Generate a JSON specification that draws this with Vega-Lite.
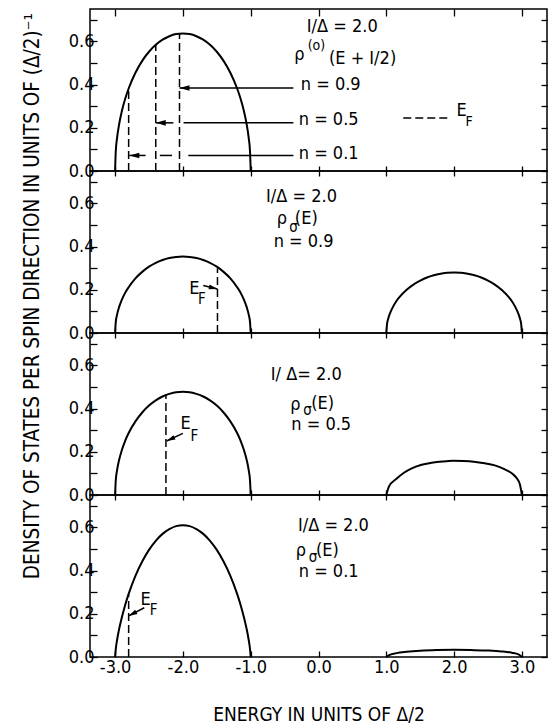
{
"$schema": "https://vega.github.io/schema/vega-lite/v6.json",
"background": "white",
"padding": {"left": 23, "top": 7, "right": 0, "bottom": 0},
"config": {
 "font": "DejaVu Sans Condensed",
 "view": {"stroke": "black", "strokeWidth": 1.5},
 "axis": {"domain": false, "grid": false, "tickColor": "black", "tickWidth": 1.3, "labelColor": "black", "labelFont": "DejaVu Sans Condensed", "labelFontSize": 18, "labelOverlap": false, "labelFlush": false, "titleFont": "DejaVu Sans Condensed", "titleFontWeight": "normal", "titleColor": "black"},
 "text": {"font": "DejaVu Sans Condensed", "color": "black"}
},
"title": {"text": "DENSITY OF STATES PER SPIN DIRECTION IN UNITS OF (Δ/2)⁻¹", "orient": "left", "anchor": "middle", "fontSize": 20.5, "font": "DejaVu Sans Condensed", "fontWeight": "normal", "color": "black", "offset": 24, "dx": 70},
"datasets": {
 "curves": [
  {"panel":1,"band":"L","E":-3.0,"rho":0},{"panel":1,"band":"L","E":-2.99,"rho":0.09},{"panel":1,"band":"L","E":-2.97,"rho":0.155},{"panel":1,"band":"L","E":-2.94,"rho":0.217},{"panel":1,"band":"L","E":-2.9,"rho":0.278},{"panel":1,"band":"L","E":-2.85,"rho":0.336},{"panel":1,"band":"L","E":-2.8,"rho":0.382},{"panel":1,"band":"L","E":-2.7,"rho":0.455},{"panel":1,"band":"L","E":-2.6,"rho":0.51},{"panel":1,"band":"L","E":-2.5,"rho":0.552},{"panel":1,"band":"L","E":-2.4,"rho":0.584},{"panel":1,"band":"L","E":-2.3,"rho":0.608},{"panel":1,"band":"L","E":-2.2,"rho":0.624},{"panel":1,"band":"L","E":-2.1,"rho":0.634},{"panel":1,"band":"L","E":-2.0,"rho":0.637},{"panel":1,"band":"L","E":-1.9,"rho":0.634},{"panel":1,"band":"L","E":-1.8,"rho":0.624},{"panel":1,"band":"L","E":-1.7,"rho":0.608},{"panel":1,"band":"L","E":-1.6,"rho":0.584},{"panel":1,"band":"L","E":-1.5,"rho":0.552},{"panel":1,"band":"L","E":-1.4,"rho":0.51},{"panel":1,"band":"L","E":-1.3,"rho":0.455},{"panel":1,"band":"L","E":-1.2,"rho":0.382},{"panel":1,"band":"L","E":-1.15,"rho":0.336},{"panel":1,"band":"L","E":-1.1,"rho":0.278},{"panel":1,"band":"L","E":-1.06,"rho":0.217},{"panel":1,"band":"L","E":-1.03,"rho":0.155},{"panel":1,"band":"L","E":-1.01,"rho":0.09},{"panel":1,"band":"L","E":-1.0,"rho":0},
  {"panel":2,"band":"L","E":-3.0,"rho":0},{"panel":2,"band":"L","E":-2.99,"rho":0.05},{"panel":2,"band":"L","E":-2.97,"rho":0.086},{"panel":2,"band":"L","E":-2.94,"rho":0.121},{"panel":2,"band":"L","E":-2.9,"rho":0.154},{"panel":2,"band":"L","E":-2.85,"rho":0.187},{"panel":2,"band":"L","E":-2.8,"rho":0.212},{"panel":2,"band":"L","E":-2.7,"rho":0.253},{"panel":2,"band":"L","E":-2.6,"rho":0.283},{"panel":2,"band":"L","E":-2.5,"rho":0.307},{"panel":2,"band":"L","E":-2.4,"rho":0.325},{"panel":2,"band":"L","E":-2.3,"rho":0.338},{"panel":2,"band":"L","E":-2.2,"rho":0.347},{"panel":2,"band":"L","E":-2.1,"rho":0.352},{"panel":2,"band":"L","E":-2.0,"rho":0.354},{"panel":2,"band":"L","E":-1.9,"rho":0.352},{"panel":2,"band":"L","E":-1.8,"rho":0.347},{"panel":2,"band":"L","E":-1.7,"rho":0.338},{"panel":2,"band":"L","E":-1.6,"rho":0.325},{"panel":2,"band":"L","E":-1.5,"rho":0.307},{"panel":2,"band":"L","E":-1.4,"rho":0.283},{"panel":2,"band":"L","E":-1.3,"rho":0.253},{"panel":2,"band":"L","E":-1.2,"rho":0.212},{"panel":2,"band":"L","E":-1.15,"rho":0.187},{"panel":2,"band":"L","E":-1.1,"rho":0.154},{"panel":2,"band":"L","E":-1.06,"rho":0.121},{"panel":2,"band":"L","E":-1.03,"rho":0.086},{"panel":2,"band":"L","E":-1.01,"rho":0.05},{"panel":2,"band":"L","E":-1.0,"rho":0},
  {"panel":2,"band":"R","E":1.0,"rho":0},{"panel":2,"band":"R","E":1.01,"rho":0.039},{"panel":2,"band":"R","E":1.03,"rho":0.068},{"panel":2,"band":"R","E":1.06,"rho":0.095},{"panel":2,"band":"R","E":1.1,"rho":0.122},{"panel":2,"band":"R","E":1.15,"rho":0.148},{"panel":2,"band":"R","E":1.2,"rho":0.168},{"panel":2,"band":"R","E":1.3,"rho":0.2},{"panel":2,"band":"R","E":1.4,"rho":0.224},{"panel":2,"band":"R","E":1.5,"rho":0.242},{"panel":2,"band":"R","E":1.6,"rho":0.257},{"panel":2,"band":"R","E":1.7,"rho":0.267},{"panel":2,"band":"R","E":1.8,"rho":0.274},{"panel":2,"band":"R","E":1.9,"rho":0.279},{"panel":2,"band":"R","E":2.0,"rho":0.28},{"panel":2,"band":"R","E":2.1,"rho":0.279},{"panel":2,"band":"R","E":2.2,"rho":0.274},{"panel":2,"band":"R","E":2.3,"rho":0.267},{"panel":2,"band":"R","E":2.4,"rho":0.257},{"panel":2,"band":"R","E":2.5,"rho":0.242},{"panel":2,"band":"R","E":2.6,"rho":0.224},{"panel":2,"band":"R","E":2.7,"rho":0.2},{"panel":2,"band":"R","E":2.8,"rho":0.168},{"panel":2,"band":"R","E":2.85,"rho":0.148},{"panel":2,"band":"R","E":2.9,"rho":0.122},{"panel":2,"band":"R","E":2.94,"rho":0.095},{"panel":2,"band":"R","E":2.97,"rho":0.068},{"panel":2,"band":"R","E":2.99,"rho":0.039},{"panel":2,"band":"R","E":3.0,"rho":0},
  {"panel":3,"band":"L","E":-3.0,"rho":0},{"panel":3,"band":"L","E":-2.99,"rho":0.067},{"panel":3,"band":"L","E":-2.97,"rho":0.116},{"panel":3,"band":"L","E":-2.94,"rho":0.163},{"panel":3,"band":"L","E":-2.9,"rho":0.208},{"panel":3,"band":"L","E":-2.85,"rho":0.252},{"panel":3,"band":"L","E":-2.8,"rho":0.287},{"panel":3,"band":"L","E":-2.7,"rho":0.341},{"panel":3,"band":"L","E":-2.6,"rho":0.382},{"panel":3,"band":"L","E":-2.5,"rho":0.414},{"panel":3,"band":"L","E":-2.4,"rho":0.438},{"panel":3,"band":"L","E":-2.3,"rho":0.456},{"panel":3,"band":"L","E":-2.2,"rho":0.468},{"panel":3,"band":"L","E":-2.1,"rho":0.476},{"panel":3,"band":"L","E":-2.0,"rho":0.478},{"panel":3,"band":"L","E":-1.9,"rho":0.476},{"panel":3,"band":"L","E":-1.8,"rho":0.468},{"panel":3,"band":"L","E":-1.7,"rho":0.456},{"panel":3,"band":"L","E":-1.6,"rho":0.438},{"panel":3,"band":"L","E":-1.5,"rho":0.414},{"panel":3,"band":"L","E":-1.4,"rho":0.382},{"panel":3,"band":"L","E":-1.3,"rho":0.341},{"panel":3,"band":"L","E":-1.2,"rho":0.287},{"panel":3,"band":"L","E":-1.15,"rho":0.252},{"panel":3,"band":"L","E":-1.1,"rho":0.208},{"panel":3,"band":"L","E":-1.06,"rho":0.163},{"panel":3,"band":"L","E":-1.03,"rho":0.116},{"panel":3,"band":"L","E":-1.01,"rho":0.067},{"panel":3,"band":"L","E":-1.0,"rho":0},
  {"panel":3,"band":"R","E":1.0,"rho":0},{"panel":3,"band":"R","E":1.04,"rho":0.04},{"panel":3,"band":"R","E":1.15,"rho":0.075},{"panel":3,"band":"R","E":1.26,"rho":0.103},{"panel":3,"band":"R","E":1.36,"rho":0.121},{"panel":3,"band":"R","E":1.52,"rho":0.14},{"panel":3,"band":"R","E":1.67,"rho":0.149},{"panel":3,"band":"R","E":1.83,"rho":0.155},{"panel":3,"band":"R","E":1.98,"rho":0.158},{"panel":3,"band":"R","E":2.14,"rho":0.157},{"panel":3,"band":"R","E":2.29,"rho":0.154},{"panel":3,"band":"R","E":2.45,"rho":0.147},{"panel":3,"band":"R","E":2.6,"rho":0.137},{"panel":3,"band":"R","E":2.74,"rho":0.12},{"panel":3,"band":"R","E":2.86,"rho":0.098},{"panel":3,"band":"R","E":2.93,"rho":0.075},{"panel":3,"band":"R","E":2.97,"rho":0.05},{"panel":3,"band":"R","E":3.0,"rho":0},
  {"panel":4,"band":"L","E":-3.0,"rho":0},{"panel":4,"band":"L","E":-2.99,"rho":0.036},{"panel":4,"band":"L","E":-2.97,"rho":0.08},{"panel":4,"band":"L","E":-2.94,"rho":0.13},{"panel":4,"band":"L","E":-2.9,"rho":0.184},{"panel":4,"band":"L","E":-2.85,"rho":0.242},{"panel":4,"band":"L","E":-2.8,"rho":0.292},{"panel":4,"band":"L","E":-2.7,"rho":0.376},{"panel":4,"band":"L","E":-2.6,"rho":0.442},{"panel":4,"band":"L","E":-2.5,"rho":0.496},{"panel":4,"band":"L","E":-2.4,"rho":0.538},{"panel":4,"band":"L","E":-2.3,"rho":0.57},{"panel":4,"band":"L","E":-2.2,"rho":0.592},{"panel":4,"band":"L","E":-2.1,"rho":0.606},{"panel":4,"band":"L","E":-2.0,"rho":0.61},{"panel":4,"band":"L","E":-1.9,"rho":0.606},{"panel":4,"band":"L","E":-1.8,"rho":0.592},{"panel":4,"band":"L","E":-1.7,"rho":0.57},{"panel":4,"band":"L","E":-1.6,"rho":0.538},{"panel":4,"band":"L","E":-1.5,"rho":0.496},{"panel":4,"band":"L","E":-1.4,"rho":0.442},{"panel":4,"band":"L","E":-1.3,"rho":0.376},{"panel":4,"band":"L","E":-1.2,"rho":0.292},{"panel":4,"band":"L","E":-1.15,"rho":0.242},{"panel":4,"band":"L","E":-1.1,"rho":0.184},{"panel":4,"band":"L","E":-1.06,"rho":0.13},{"panel":4,"band":"L","E":-1.03,"rho":0.08},{"panel":4,"band":"L","E":-1.01,"rho":0.036},{"panel":4,"band":"L","E":-1.0,"rho":0},
  {"panel":4,"band":"R","E":1.0,"rho":0},{"panel":4,"band":"R","E":1.05,"rho":0.01},{"panel":4,"band":"R","E":1.15,"rho":0.018},{"panel":4,"band":"R","E":1.3,"rho":0.024},{"panel":4,"band":"R","E":1.5,"rho":0.029},{"panel":4,"band":"R","E":1.75,"rho":0.032},{"panel":4,"band":"R","E":2.0,"rho":0.033},{"panel":4,"band":"R","E":2.25,"rho":0.032},{"panel":4,"band":"R","E":2.5,"rho":0.03},{"panel":4,"band":"R","E":2.7,"rho":0.026},{"panel":4,"band":"R","E":2.85,"rho":0.02},{"panel":4,"band":"R","E":2.95,"rho":0.012},{"panel":4,"band":"R","E":3.0,"rho":0}
 ],
 "fermi": [
  {"panel":1,"x1":-2.8,"x2":-2.8,"y1":0,"y2":0.37},
  {"panel":1,"x1":-2.4,"x2":-2.4,"y1":0,"y2":0.585},
  {"panel":1,"x1":-2.05,"x2":-2.05,"y1":0,"y2":0.635},
  {"panel":1,"x1":1.25,"x2":1.9,"y1":0.245,"y2":0.245},
  {"panel":2,"x1":-1.49,"x2":-1.49,"y1":0,"y2":0.3},
  {"panel":3,"x1":-2.25,"x2":-2.25,"y1":0,"y2":0.465},
  {"panel":4,"x1":-2.8,"x2":-2.8,"y1":0,"y2":0.29}
 ],
 "arrows": [
  {"panel":1,"x1":-2.05,"x2":-0.37,"y1":0.384,"y2":0.384},
  {"panel":1,"x1":-2.4,"x2":-2.14,"y1":0.223,"y2":0.223},
  {"panel":1,"x1":-1.99,"x2":-0.37,"y1":0.223,"y2":0.223},
  {"panel":1,"x1":-2.79,"x2":-2.55,"y1":0.072,"y2":0.072},
  {"panel":1,"x1":-2.34,"x2":-2.16,"y1":0.072,"y2":0.072},
  {"panel":1,"x1":-1.92,"x2":-0.37,"y1":0.072,"y2":0.072},
  {"panel":2,"x1":-1.7,"x2":-1.49,"y1":0.22,"y2":0.204},
  {"panel":3,"x1":-2.0,"x2":-2.24,"y1":0.285,"y2":0.25},
  {"panel":4,"x1":-2.57,"x2":-2.8,"y1":0.228,"y2":0.19}
 ],
 "heads": [
  {"panel":1,"x":-2.05,"y":0.384,"dir":0},
  {"panel":1,"x":-2.4,"y":0.223,"dir":0},
  {"panel":1,"x":-2.79,"y":0.072,"dir":0},
  {"panel":2,"x":-1.49,"y":0.204,"dir":194},
  {"panel":3,"x":-2.24,"y":0.25,"dir":335},
  {"panel":4,"x":-2.8,"y":0.19,"dir":332}
 ],
 "labels": [
  {"panel":1,"x":0.35,"y":0.665,"text":"I/Δ = 2.0"},
  {"panel":1,"x":-0.28,"y":0.535,"text":"ρ"},
  {"panel":1,"x":0.65,"y":0.517,"text":"(E + I/2)"},
  {"panel":1,"x":0.18,"y":0.4,"text":"n = 0.9"},
  {"panel":1,"x":0.15,"y":0.235,"text":"n = 0.5"},
  {"panel":1,"x":0.15,"y":0.078,"text":"n = 0.1"},
  {"panel":1,"x":2.11,"y":0.28,"text":"E"},
  {"panel":2,"x":-0.25,"y":0.628,"text":"I/Δ = 2.0"},
  {"panel":2,"x":-0.54,"y":0.526,"text":"ρ"},
  {"panel":2,"x":-0.18,"y":0.526,"text":"(E)"},
  {"panel":2,"x":-0.22,"y":0.42,"text":"n = 0.9"},
  {"panel":2,"x":-1.83,"y":0.205,"text":"E"},
  {"panel":3,"x":-0.18,"y":0.554,"text":"I/ Δ= 2.0"},
  {"panel":3,"x":-0.34,"y":0.415,"text":"ρ"},
  {"panel":3,"x":0.06,"y":0.42,"text":"(E)"},
  {"panel":3,"x":0.04,"y":0.323,"text":"n = 0.5"},
  {"panel":3,"x":-1.96,"y":0.329,"text":"E"},
  {"panel":4,"x":0.22,"y":0.608,"text":"I/Δ = 2.0"},
  {"panel":4,"x":-0.26,"y":0.489,"text":"ρ"},
  {"panel":4,"x":0.13,"y":0.489,"text":"(E)"},
  {"panel":4,"x":0.15,"y":0.392,"text":"n = 0.1"},
  {"panel":4,"x":-2.55,"y":0.265,"text":"E"}
 ],
 "subs": [
  {"panel":1,"x":-0.03,"y":0.58,"text":"(o)"},
  {"panel":1,"x":2.22,"y":0.226,"text":"F"},
  {"panel":2,"x":-0.37,"y":0.49,"text":"σ"},
  {"panel":2,"x":-1.72,"y":0.158,"text":"F"},
  {"panel":3,"x":-0.16,"y":0.395,"text":"σ"},
  {"panel":3,"x":-1.83,"y":0.272,"text":"F"},
  {"panel":4,"x":-0.08,"y":0.462,"text":"σ"},
  {"panel":4,"x":-2.43,"y":0.217,"text":"F"}
 ]
},
"spacing": 0,
"bounds": "flush",
"vconcat": [
 {"width": 457, "height": 162, "resolve": {"axis": {"x": "independent", "y": "independent"}},
  "layer": [
   {"data": {"name": "curves"}, "transform": [{"filter": "datum.panel == 1"}], "mark": {"type": "line", "color": "black", "strokeWidth": 2, "interpolate": "monotone"},
    "encoding": {"x": {"field": "E", "type": "quantitative", "scale": {"domain": [-3.37, 3.37], "nice": false, "zero": false}, "axis": {"orient": "bottom", "values": [-3,-2,-1,0,1,2,3], "tickSize": -5, "labels": false, "title": null}},
     "y": {"field": "rho", "type": "quantitative", "scale": {"domain": [0, 0.75], "nice": false}, "axis": {"orient": "left", "values": [0,0.1,0.2,0.3,0.4,0.5,0.6,0.7], "tickSize": -7, "labelPadding": 3, "labelExpr": "round(datum.value*10) % 2 == 0 ? format(datum.value, '.1f') : ''", "title": null}},
     "detail": {"field": "band"}}},
   {"data": {"name": "fermi"}, "transform": [{"filter": "datum.panel == 1"}], "mark": {"type": "rule", "color": "black", "strokeWidth": 1.5, "strokeDash": [8, 4]},
    "encoding": {"x": {"field": "x1", "type": "quantitative", "axis": {"orient": "top", "values": [-3,-2,-1,0,1,2,3], "tickSize": -7, "labels": false, "title": null}}, "x2": {"field": "x2"},
     "y": {"field": "y1", "type": "quantitative", "axis": {"orient": "right", "values": [0,0.1,0.2,0.3,0.4,0.5,0.6,0.7], "tickSize": -6, "labels": false, "title": null}}, "y2": {"field": "y2"}}},
   {"data": {"name": "arrows"}, "transform": [{"filter": "datum.panel == 1"}], "mark": {"type": "rule", "color": "black", "strokeWidth": 1.5},
    "encoding": {"x": {"field": "x1", "type": "quantitative", "axis": null}, "x2": {"field": "x2"}, "y": {"field": "y1", "type": "quantitative", "axis": null}, "y2": {"field": "y2"}}},
   {"data": {"name": "heads"}, "transform": [{"filter": "datum.panel == 1"}], "mark": {"type": "point", "shape": "M0,0L1,-0.28L1,0.28Z", "filled": true, "color": "black", "opacity": 1, "size": 400, "strokeWidth": 0},
    "encoding": {"x": {"field": "x", "type": "quantitative", "axis": null}, "y": {"field": "y", "type": "quantitative", "axis": null}, "angle": {"field": "dir", "type": "quantitative", "scale": null}}},
   {"data": {"name": "labels"}, "transform": [{"filter": "datum.panel == 1"}], "mark": {"type": "text", "fontSize": 18, "align": "center", "baseline": "middle"},
    "encoding": {"x": {"field": "x", "type": "quantitative", "axis": null}, "y": {"field": "y", "type": "quantitative", "axis": null}, "text": {"field": "text"}}},
   {"data": {"name": "subs"}, "transform": [{"filter": "datum.panel == 1"}], "mark": {"type": "text", "fontSize": 14, "align": "center", "baseline": "middle"},
    "encoding": {"x": {"field": "x", "type": "quantitative", "axis": null}, "y": {"field": "y", "type": "quantitative", "axis": null}, "text": {"field": "text"}}}
  ]},
 {"width": 457, "height": 162, "resolve": {"axis": {"x": "independent", "y": "independent"}},
  "layer": [
   {"data": {"name": "curves"}, "transform": [{"filter": "datum.panel == 2"}], "mark": {"type": "line", "color": "black", "strokeWidth": 2, "interpolate": "monotone"},
    "encoding": {"x": {"field": "E", "type": "quantitative", "scale": {"domain": [-3.37, 3.37], "nice": false, "zero": false}, "axis": {"orient": "bottom", "values": [-3,-2,-1,0,1,2,3], "tickSize": -5, "labels": false, "title": null}},
     "y": {"field": "rho", "type": "quantitative", "scale": {"domain": [0, 0.75], "nice": false}, "axis": {"orient": "left", "values": [0,0.1,0.2,0.3,0.4,0.5,0.6,0.7], "tickSize": -7, "labelPadding": 3, "labelExpr": "round(datum.value*10) % 2 == 0 ? format(datum.value, '.1f') : ''", "title": null}},
     "detail": {"field": "band"}}},
   {"data": {"name": "fermi"}, "transform": [{"filter": "datum.panel == 2"}], "mark": {"type": "rule", "color": "black", "strokeWidth": 1.5, "strokeDash": [8, 4]},
    "encoding": {"x": {"field": "x1", "type": "quantitative", "axis": {"orient": "top", "values": [-3,-2,-1,0,1,2,3], "tickSize": -5, "labels": false, "title": null}}, "x2": {"field": "x2"},
     "y": {"field": "y1", "type": "quantitative", "axis": {"orient": "right", "values": [0,0.1,0.2,0.3,0.4,0.5,0.6,0.7], "tickSize": -6, "labels": false, "title": null}}, "y2": {"field": "y2"}}},
   {"data": {"name": "arrows"}, "transform": [{"filter": "datum.panel == 2"}], "mark": {"type": "rule", "color": "black", "strokeWidth": 1.5},
    "encoding": {"x": {"field": "x1", "type": "quantitative", "axis": null}, "x2": {"field": "x2"}, "y": {"field": "y1", "type": "quantitative", "axis": null}, "y2": {"field": "y2"}}},
   {"data": {"name": "heads"}, "transform": [{"filter": "datum.panel == 2"}], "mark": {"type": "point", "shape": "M0,0L1,-0.28L1,0.28Z", "filled": true, "color": "black", "opacity": 1, "size": 300, "strokeWidth": 0},
    "encoding": {"x": {"field": "x", "type": "quantitative", "axis": null}, "y": {"field": "y", "type": "quantitative", "axis": null}, "angle": {"field": "dir", "type": "quantitative", "scale": null}}},
   {"data": {"name": "labels"}, "transform": [{"filter": "datum.panel == 2"}], "mark": {"type": "text", "fontSize": 18, "align": "center", "baseline": "middle"},
    "encoding": {"x": {"field": "x", "type": "quantitative", "axis": null}, "y": {"field": "y", "type": "quantitative", "axis": null}, "text": {"field": "text"}}},
   {"data": {"name": "subs"}, "transform": [{"filter": "datum.panel == 2"}], "mark": {"type": "text", "fontSize": 15, "align": "center", "baseline": "middle"},
    "encoding": {"x": {"field": "x", "type": "quantitative", "axis": null}, "y": {"field": "y", "type": "quantitative", "axis": null}, "text": {"field": "text"}}}
  ]},
 {"width": 457, "height": 162, "resolve": {"axis": {"x": "independent", "y": "independent"}},
  "layer": [
   {"data": {"name": "curves"}, "transform": [{"filter": "datum.panel == 3"}], "mark": {"type": "line", "color": "black", "strokeWidth": 2, "interpolate": "monotone"},
    "encoding": {"x": {"field": "E", "type": "quantitative", "scale": {"domain": [-3.37, 3.37], "nice": false, "zero": false}, "axis": {"orient": "bottom", "values": [-3,-2,-1,0,1,2,3], "tickSize": -5, "labels": false, "title": null}},
     "y": {"field": "rho", "type": "quantitative", "scale": {"domain": [0, 0.75], "nice": false}, "axis": {"orient": "left", "values": [0,0.1,0.2,0.3,0.4,0.5,0.6,0.7], "tickSize": -7, "labelPadding": 3, "labelExpr": "round(datum.value*10) % 2 == 0 ? format(datum.value, '.1f') : ''", "title": null}},
     "detail": {"field": "band"}}},
   {"data": {"name": "fermi"}, "transform": [{"filter": "datum.panel == 3"}], "mark": {"type": "rule", "color": "black", "strokeWidth": 1.5, "strokeDash": [8, 4]},
    "encoding": {"x": {"field": "x1", "type": "quantitative", "axis": {"orient": "top", "values": [-3,-2,-1,0,1,2,3], "tickSize": -5, "labels": false, "title": null}}, "x2": {"field": "x2"},
     "y": {"field": "y1", "type": "quantitative", "axis": {"orient": "right", "values": [0,0.1,0.2,0.3,0.4,0.5,0.6,0.7], "tickSize": -6, "labels": false, "title": null}}, "y2": {"field": "y2"}}},
   {"data": {"name": "arrows"}, "transform": [{"filter": "datum.panel == 3"}], "mark": {"type": "rule", "color": "black", "strokeWidth": 1.5},
    "encoding": {"x": {"field": "x1", "type": "quantitative", "axis": null}, "x2": {"field": "x2"}, "y": {"field": "y1", "type": "quantitative", "axis": null}, "y2": {"field": "y2"}}},
   {"data": {"name": "heads"}, "transform": [{"filter": "datum.panel == 3"}], "mark": {"type": "point", "shape": "M0,0L1,-0.28L1,0.28Z", "filled": true, "color": "black", "opacity": 1, "size": 300, "strokeWidth": 0},
    "encoding": {"x": {"field": "x", "type": "quantitative", "axis": null}, "y": {"field": "y", "type": "quantitative", "axis": null}, "angle": {"field": "dir", "type": "quantitative", "scale": null}}},
   {"data": {"name": "labels"}, "transform": [{"filter": "datum.panel == 3"}], "mark": {"type": "text", "fontSize": 18, "align": "center", "baseline": "middle"},
    "encoding": {"x": {"field": "x", "type": "quantitative", "axis": null}, "y": {"field": "y", "type": "quantitative", "axis": null}, "text": {"field": "text"}}},
   {"data": {"name": "subs"}, "transform": [{"filter": "datum.panel == 3"}], "mark": {"type": "text", "fontSize": 15, "align": "center", "baseline": "middle"},
    "encoding": {"x": {"field": "x", "type": "quantitative", "axis": null}, "y": {"field": "y", "type": "quantitative", "axis": null}, "text": {"field": "text"}}}
  ]},
 {"width": 457, "height": 162, "resolve": {"axis": {"x": "independent", "y": "independent"}},
  "layer": [
   {"data": {"name": "curves"}, "transform": [{"filter": "datum.panel == 4"}], "mark": {"type": "line", "color": "black", "strokeWidth": 2, "interpolate": "monotone"},
    "encoding": {"x": {"field": "E", "type": "quantitative", "scale": {"domain": [-3.37, 3.37], "nice": false, "zero": false}, "axis": {"orient": "bottom", "values": [-3,-2,-1,0,1,2,3], "tickSize": -6, "labelPadding": 7, "labelExpr": "replace(format(datum.value, '.1f'), '−', '-')", "title": "ENERGY IN UNITS OF Δ/2", "titleFontSize": 19, "titlePadding": 29}},
     "y": {"field": "rho", "type": "quantitative", "scale": {"domain": [0, 0.75], "nice": false}, "axis": {"orient": "left", "values": [0,0.1,0.2,0.3,0.4,0.5,0.6,0.7], "tickSize": -7, "labelPadding": 3, "labelExpr": "round(datum.value*10) % 2 == 0 ? format(datum.value, '.1f') : ''", "title": null}},
     "detail": {"field": "band"}}},
   {"data": {"name": "fermi"}, "transform": [{"filter": "datum.panel == 4"}], "mark": {"type": "rule", "color": "black", "strokeWidth": 1.5, "strokeDash": [8, 4]},
    "encoding": {"x": {"field": "x1", "type": "quantitative", "axis": {"orient": "top", "values": [-3,-2,-1,0,1,2,3], "tickSize": -5, "labels": false, "title": null}}, "x2": {"field": "x2"},
     "y": {"field": "y1", "type": "quantitative", "axis": {"orient": "right", "values": [0,0.1,0.2,0.3,0.4,0.5,0.6,0.7], "tickSize": -6, "labels": false, "title": null}}, "y2": {"field": "y2"}}},
   {"data": {"name": "arrows"}, "transform": [{"filter": "datum.panel == 4"}], "mark": {"type": "rule", "color": "black", "strokeWidth": 1.5},
    "encoding": {"x": {"field": "x1", "type": "quantitative", "axis": null}, "x2": {"field": "x2"}, "y": {"field": "y1", "type": "quantitative", "axis": null}, "y2": {"field": "y2"}}},
   {"data": {"name": "heads"}, "transform": [{"filter": "datum.panel == 4"}], "mark": {"type": "point", "shape": "M0,0L1,-0.28L1,0.28Z", "filled": true, "color": "black", "opacity": 1, "size": 300, "strokeWidth": 0},
    "encoding": {"x": {"field": "x", "type": "quantitative", "axis": null}, "y": {"field": "y", "type": "quantitative", "axis": null}, "angle": {"field": "dir", "type": "quantitative", "scale": null}}},
   {"data": {"name": "labels"}, "transform": [{"filter": "datum.panel == 4"}], "mark": {"type": "text", "fontSize": 18, "align": "center", "baseline": "middle"},
    "encoding": {"x": {"field": "x", "type": "quantitative", "axis": null}, "y": {"field": "y", "type": "quantitative", "axis": null}, "text": {"field": "text"}}},
   {"data": {"name": "subs"}, "transform": [{"filter": "datum.panel == 4"}], "mark": {"type": "text", "fontSize": 15, "align": "center", "baseline": "middle"},
    "encoding": {"x": {"field": "x", "type": "quantitative", "axis": null}, "y": {"field": "y", "type": "quantitative", "axis": null}, "text": {"field": "text"}}}
  ]}
]
}
